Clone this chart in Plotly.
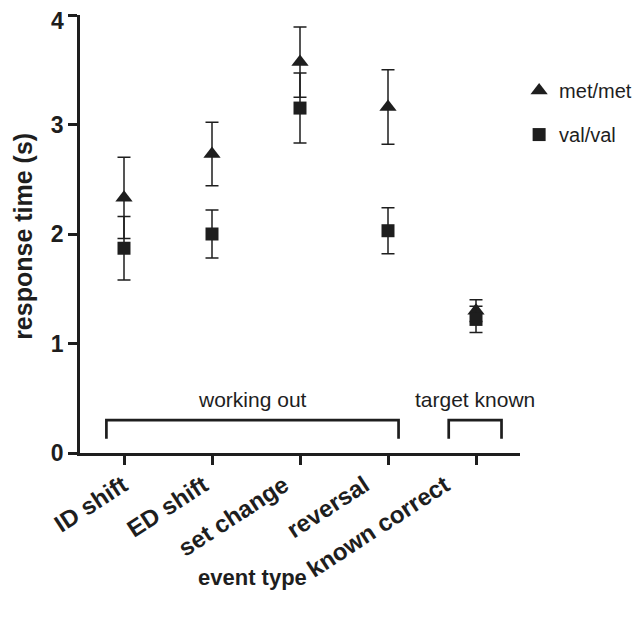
import plotly.graph_objects as go

categories = ["ID shift", "ED shift", "set change", "reversal", "known correct"]
met_mean = [2.33, 2.73, 3.57, 3.16, 1.30]
met_err = [0.37, 0.29, 0.32, 0.34, 0.10]
val_mean = [1.87, 2.00, 3.15, 2.03, 1.22]
val_err = [0.29, 0.22, 0.32, 0.21, 0.12]

group_labels = ["working out", "target known"]
group_start = [-0.2, 3.69]
group_end = [3.12, 4.29]
bracket_top = 0.30
bracket_bottom = 0.13
group_label_y = 0.49

y_ticks = [0, 1, 2, 3, 4]
y_tick_labels = ["0", "1", "2", "3", "4"]

INK = "#1e1e1e"
FONT = "Liberation Sans, Arial, Helvetica, sans-serif"

x_idx = list(range(len(categories)))

fig = go.Figure()

# brackets
for lab, s, e in zip(group_labels, group_start, group_end):
    fig.add_trace(go.Scatter(
        x=[s, s, e, e], y=[bracket_bottom, bracket_top, bracket_top, bracket_bottom],
        mode="lines", line=dict(color=INK, width=2.7), showlegend=False, hoverinfo="skip"))
    fig.add_annotation(x=(s + e) / 2, y=group_label_y, text=lab, showarrow=False,
                       font=dict(family=FONT, size=21, color=INK), xref="x", yref="y")

fig.add_trace(go.Scatter(
    x=x_idx, y=met_mean, mode="markers", name="met/met",
    marker=dict(symbol="triangle-up", size=15, color=INK),
    error_y=dict(type="data", array=met_err, visible=True, color=INK, thickness=1.5, width=6.5),
    legendgroup="a", legendrank=1))
fig.add_trace(go.Scatter(
    x=x_idx, y=val_mean, mode="markers", name="val/val",
    marker=dict(symbol="square", size=13, color=INK),
    error_y=dict(type="data", array=val_err, visible=True, color=INK, thickness=1.5, width=6.5),
    legendgroup="b", legendrank=2))

# carrier trace for the category-label axis (no visible marks)
fig.add_trace(go.Scatter(x=x_idx, y=[None] * len(x_idx), xaxis="x2", yaxis="y",
                         mode="markers", showlegend=False, hoverinfo="skip"))

# axis titles as annotations
fig.add_annotation(x=-0.128, y=0.495, xref="paper", yref="paper", text="<b>response time (s)</b>",
                   textangle=-90, showarrow=False, xanchor="center", yanchor="middle",
                   font=dict(family=FONT, size=25, color=INK))
fig.add_annotation(x=0.391, y=-0.285, xref="paper", yref="paper", text="<b>event type</b>",
                   showarrow=False, xanchor="center", yanchor="middle",
                   font=dict(family=FONT, size=22, color=INK))
# top y tick label, set just below its tick so it stays inside the page
fig.add_annotation(x=0, y=y_ticks[-1], xref="paper", yref="y", text="<b>%s</b>" % y_tick_labels[-1],
                   showarrow=False, xanchor="right", yanchor="top", xshift=-14, yshift=9,
                   font=dict(family=FONT, size=23, color=INK))

fig.update_layout(
    width=625, height=605,
    margin=dict(l=72, r=113, t=7, b=160, autoexpand=False),
    plot_bgcolor="white", paper_bgcolor="white",
    font=dict(family=FONT, color=INK),
    showlegend=True,
    legend=dict(x=0.998, xanchor="left", y=0.872, yanchor="top",
                traceorder="grouped", tracegroupgap=15,
                font=dict(family=FONT, size=20, color=INK),
                bgcolor="rgba(0,0,0,0)"),
    xaxis=dict(range=[-0.5, 4.5], tickvals=x_idx, ticktext=[""] * len(x_idx), automargin=False,
               showgrid=False, zeroline=False,
               showline=True, linecolor=INK, linewidth=2.7,
               ticks="outside", ticklen=9, tickwidth=2.7, tickcolor=INK),
    xaxis2=dict(overlaying="x", anchor="y", side="bottom", range=[-0.534, 4.932],
                tickvals=x_idx, ticktext=categories, automargin=False,
                tickangle=-33, showgrid=False, zeroline=False, showline=False,
                ticks="outside", ticklen=8, tickcolor="rgba(0,0,0,0)",
                tickfont=dict(family=FONT, size=24, color=INK, weight="bold")),
    yaxis=dict(range=[0, 4], tickvals=y_ticks,
               ticktext=y_tick_labels[:-1] + [""],
               showgrid=False, zeroline=False, automargin=False,
               showline=True, linecolor=INK, linewidth=2.7,
               ticks="outside", ticklen=9, tickwidth=2.7, tickcolor=INK,
               tickfont=dict(family=FONT, size=23, color=INK, weight="bold")),
)

fig.write_html("out.html")
